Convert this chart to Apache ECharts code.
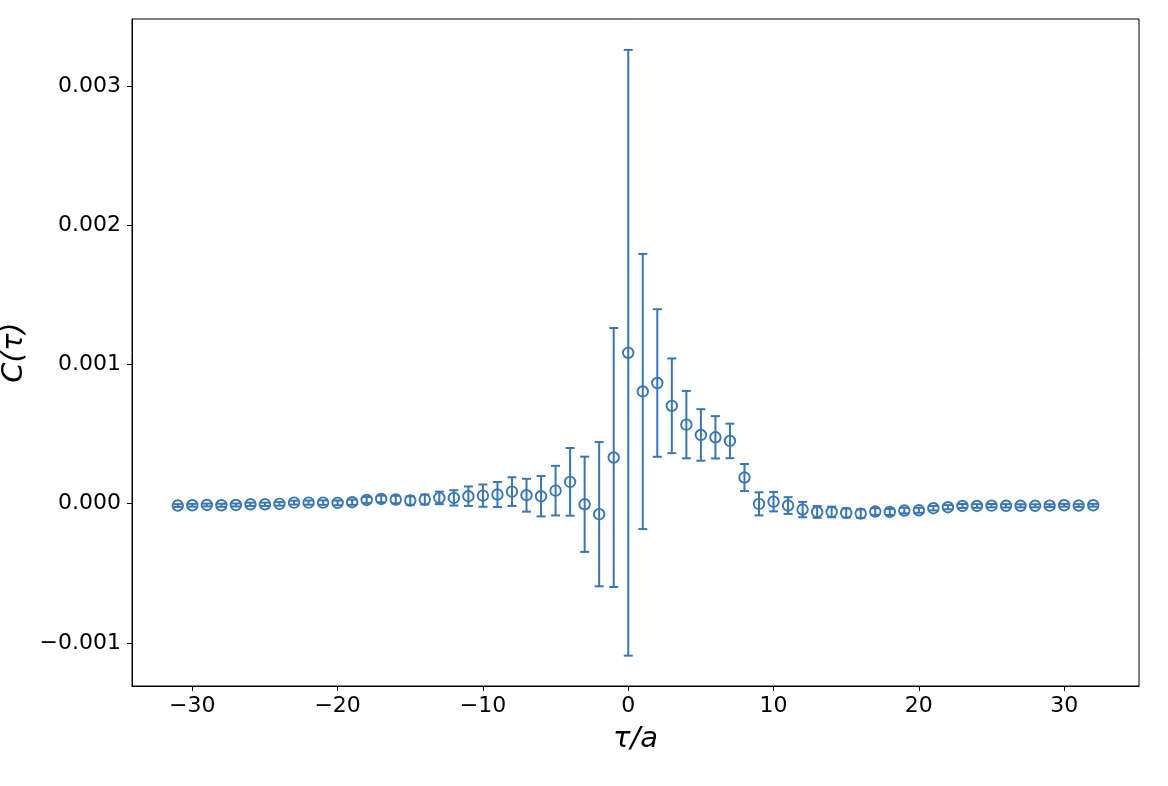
<!DOCTYPE html>
<html>
<head>
<meta charset="utf-8">
<script src="https://cdn.jsdelivr.net/npm/echarts@6/dist/echarts.min.js"></script>
<style>
html,body{margin:0;padding:0;background:#fff;}
#chart{width:1168px;height:786px;}
</style>
</head>
<body>
<div id="chart"></div>
<script>
const tau = [-31,-30,-29,-28,-27,-26,-25,-24,-23,-22,-21,-20,-19,-18,-17,-16,-15,-14,-13,-12,-11,-10,-9,-8,-7,-6,-5,-4,-3,-2,-1,0,1,2,3,4,5,6,7,8,9,10,11,12,13,14,15,16,17,18,19,20,21,22,23,24,25,26,27,28,29,30,31,32];
const corr = [-0.000014,-0.000012,-0.000010,-0.000012,-0.000010,-0.000005,-0.000005,-0.000002,0.000007,0.000007,0.000007,0.000005,0.000010,0.000026,0.000033,0.000029,0.000022,0.000029,0.000041,0.000041,0.000053,0.000057,0.000065,0.000086,0.000060,0.000053,0.000093,0.000156,-0.000005,-0.000076,0.000331,0.001083,0.000805,0.000866,0.000702,0.000567,0.000493,0.000476,0.000450,0.000187,-0.000002,0.000014,-0.000014,-0.000043,-0.000060,-0.000060,-0.000067,-0.000072,-0.000057,-0.000060,-0.000050,-0.000048,-0.000033,-0.000026,-0.000017,-0.000017,-0.000015,-0.000016,-0.000016,-0.000016,-0.000015,-0.000012,-0.000014,-0.000012];
const corrErr = [0.000010,0.000010,0.000010,0.000011,0.000011,0.000012,0.000012,0.000013,0.000014,0.000015,0.000016,0.000017,0.000019,0.000021,0.000024,0.000027,0.000030,0.000036,0.000045,0.000055,0.000070,0.000080,0.000090,0.000103,0.000118,0.000145,0.000178,0.000243,0.000342,0.000518,0.000930,0.002175,0.000988,0.000530,0.000340,0.000242,0.000185,0.000152,0.000124,0.000097,0.000083,0.000070,0.000060,0.000055,0.000042,0.000038,0.000032,0.000030,0.000024,0.000022,0.000020,0.000018,0.000016,0.000015,0.000014,0.000013,0.000012,0.000012,0.000011,0.000011,0.000010,0.000010,0.000010,0.000010];
const xTicks = [-30,-20,-10,0,10,20,30];
const yTicks = [-0.001,0,0.001,0.002,0.003];

const COLOR = '#3a76b2';
const FONT = 'DejaVu Sans';
const pts = tau.map((t,i)=>[t,corr[i]]);
const errData = tau.map((t,i)=>[t,corr[i]-corrErr[i],corr[i]+corrErr[i]]);

const chart = echarts.init(document.getElementById('chart'), null, {renderer:'canvas'});
chart.setOption({
  animation:false,
  backgroundColor:'#fff',
  grid:{left:132,right:29,top:19,bottom:100,containLabel:false,outerBoundsMode:'none',
    show:true,borderColor:'#000',borderWidth:1,backgroundColor:'transparent'},
  xAxis:{
    type:'value',min:-34.15,max:35.15,
    name:'τ/a',nameLocation:'middle',nameGap:39,
    nameTextStyle:{fontFamily:FONT,fontSize:29,fontStyle:'italic',color:'#000'},
    axisLine:{show:true,onZero:false,lineStyle:{color:'#000',width:1}},
    axisTick:{show:true,length:5,inside:false,customValues:xTicks,lineStyle:{color:'#000',width:1}},
    axisLabel:{customValues:xTicks,margin:9,fontFamily:FONT,fontSize:22,color:'#000',
      formatter:v=>String(v).replace('-','\u2212')},
    splitLine:{show:false}
  },
  yAxis:{
    type:'value',min:-0.00131,max:0.00348,
    name:'C(τ)',nameLocation:'middle',nameGap:100,nameRotate:90,
    nameTextStyle:{fontFamily:FONT,fontSize:29,fontStyle:'italic',color:'#000'},
    axisLine:{show:true,onZero:false,lineStyle:{color:'#000',width:1}},
    axisTick:{show:true,length:5,inside:false,customValues:yTicks,lineStyle:{color:'#000',width:1}},
    axisLabel:{customValues:yTicks,margin:11,fontFamily:FONT,fontSize:22,color:'#000',
      formatter:v=>v.toFixed(3).replace('-','\u2212')},
    splitLine:{show:false}
  },
  series:[
    {
      type:'custom',
      data:errData,
      encode:{x:0,y:[1,2]},
      renderItem:function(params,api){
        const x = api.value(0);
        const lo = api.coord([x,api.value(1)]);
        const hi = api.coord([x,api.value(2)]);
        const cap = 4.5;
        const st = {stroke:COLOR,lineWidth:2};
        return {type:'group',children:[
          {type:'line',shape:{x1:lo[0],y1:lo[1],x2:hi[0],y2:hi[1]},style:st},
          {type:'line',shape:{x1:lo[0]-cap,y1:lo[1],x2:lo[0]+cap,y2:lo[1]},style:st},
          {type:'line',shape:{x1:hi[0]-cap,y1:hi[1],x2:hi[0]+cap,y2:hi[1]},style:st}
        ]};
      },
      z:2
    },
    {
      type:'scatter',
      data:pts,
      symbol:'circle',
      symbolSize:10.5,
      itemStyle:{color:'rgba(0,0,0,0)',borderColor:COLOR,borderWidth:1.9,opacity:1},
      emphasis:{disabled:true},
      z:3
    }
  ]
});
</script>
</body>
</html>
